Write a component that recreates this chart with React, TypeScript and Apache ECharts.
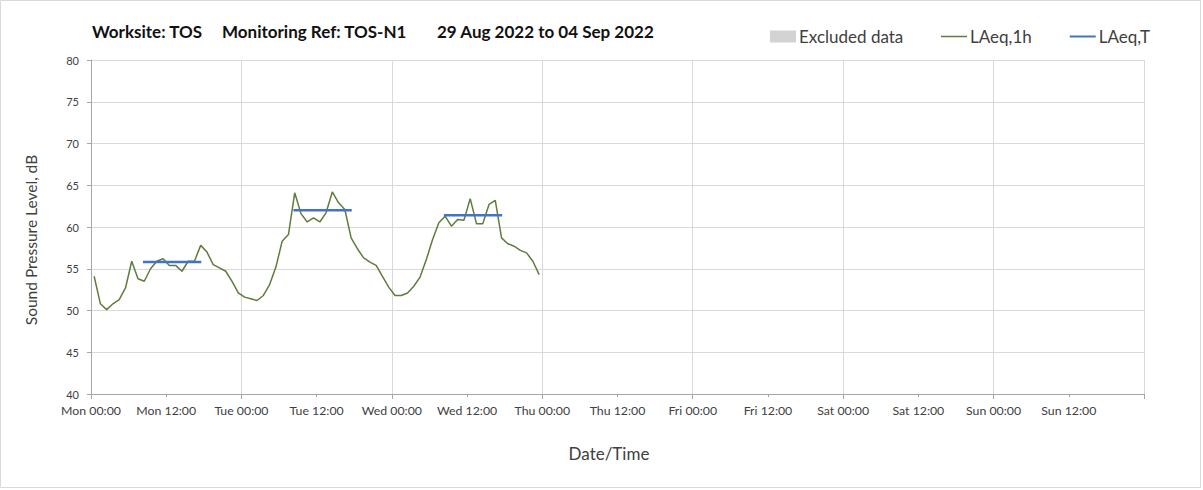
import React, { useEffect, useRef } from 'react';
import * as echarts from 'echarts';

const DAYS = ['Mon', 'Tue', 'Wed', 'Thu', 'Fri', 'Sat', 'Sun'];
const HALF_DAY_LABELS = ['00:00', '12:00'];

// Hourly LAeq,1h values (dB), Mon 00:00 to Wed 23:00
const laeq1hMon = [54.1, 50.8, 50.1, 50.8, 51.3, 52.7, 55.9, 53.8, 53.5, 55.0, 55.9, 56.2, 55.4, 55.4, 54.7, 55.9, 55.9, 57.8, 57.0, 55.5, 55.1, 54.7, 53.5, 52.1];
const laeq1hTue = [51.6, 51.4, 51.2, 51.8, 53.1, 55.2, 58.3, 59.1, 64.1, 61.6, 60.6, 61.1, 60.6, 61.7, 64.2, 62.9, 62.1, 58.7, 57.4, 56.3, 55.8, 55.4, 54.1, 52.8];
const laeq1hWed = [51.8, 51.8, 52.1, 52.9, 54.0, 56.1, 58.5, 60.5, 61.3, 60.1, 60.9, 60.8, 63.4, 60.4, 60.4, 62.7, 63.2, 58.7, 58.0, 57.7, 57.2, 56.9, 55.9, 54.3];

// LAeq,T daytime periods (hours from Mon 00:00)
const laeqTStart = [8.3, 32.3, 56.3];
const laeqTEnd = [17.6, 41.6, 65.6];
const laeqTValues = [55.8, 62.0, 61.4];

const TITLE_PARTS = ['Worksite: TOS', 'Monitoring Ref: TOS-N1', '29 Aug 2022 to 04 Sep 2022'];

const FONT = 'Lato, "Noto Sans", sans-serif';

export default function App() {
  const ref = useRef<HTMLDivElement>(null);
  useEffect(() => {
    if (!ref.current) return;
    const chart = echarts.init(ref.current, undefined, { renderer: 'svg' });
    const hourly = [...laeq1hMon, ...laeq1hTue, ...laeq1hWed];
    const lineData = hourly.map((v, i) => [i + 0.5, v]);
    const tSeries = laeqTValues.map((v, k) => ({
      name: 'LAeq,T',
      type: 'line',
      xAxisIndex: 0,
      symbol: 'none',
      lineStyle: { color: '#4472C4', width: 2.5 },
      itemStyle: { color: '#4472C4' },
      data: [[laeqTStart[k], v], [laeqTEnd[k], v]],
      z: 3,
    }));
    const fmt = (h: number) => {
      if (h >= 168) return '';
      return DAYS[Math.floor(h / 24)] + ' ' + HALF_DAY_LABELS[(h % 24) / 12];
    };
    const titleX = [92, 222, 437];
    chart.setOption({
      animation: false,
      backgroundColor: '#ffffff',
      textStyle: { fontFamily: FONT },
      grid: { left: 91, right: 59, top: 60, bottom: 96 },
      legend: {
        left: 770,
        top: 28,
        padding: 0,
        itemGap: 37,
        itemWidth: 26,
        itemHeight: 12,
        textStyle: { fontSize: 17, color: '#404040', fontFamily: FONT, padding: [0, 0, 0, -2] },
        data: [
          { name: 'Excluded data', icon: 'rect' },
          { name: 'LAeq,1h', itemStyle: { color: 'transparent', borderWidth: 0, opacity: 0 }, lineStyle: { width: 1.5 } },
          { name: 'LAeq,T', itemStyle: { color: 'transparent', borderWidth: 0, opacity: 0 }, lineStyle: { width: 2 } },
        ],
      },
      xAxis: [
        {
          type: 'value',
          min: 0,
          max: 168,
          interval: 12,
          axisLine: { show: true, lineStyle: { color: '#a6a6a6', width: 1 } },
          axisTick: { show: true, length: 3, lineStyle: { color: '#a6a6a6' } },
          axisLabel: { formatter: fmt, fontSize: 12.3, color: '#404040', margin: 10, showMaxLabel: false, fontFamily: FONT },
          splitLine: { show: false },
        },
        {
          type: 'value',
          min: 0,
          max: 168,
          interval: 24,
          position: 'bottom',
          axisLine: { show: false },
          axisTick: { show: true, length: 5, lineStyle: { color: '#a6a6a6' } },
          axisLabel: { show: false },
          splitLine: { show: true, lineStyle: { color: '#d9d9d9', width: 1 } },
        },
      ],
      yAxis: {
        type: 'value',
        min: 40,
        max: 80,
        interval: 5,
        axisLine: { show: true, lineStyle: { color: '#a6a6a6' } },
        axisTick: { show: true, length: 4, lineStyle: { color: '#a6a6a6' } },
        axisLabel: { fontSize: 11, color: '#404040', margin: 12, fontFamily: FONT },
        splitLine: { show: true, lineStyle: { color: '#d9d9d9', width: 1 } },
      },
      series: [
        {
          name: 'Excluded data',
          type: 'bar',
          xAxisIndex: 0,
          itemStyle: { color: '#d3d3d3' },
          data: [],
        },
        {
          name: 'LAeq,1h',
          type: 'line',
          xAxisIndex: 0,
          symbol: 'none',
          lineStyle: { color: '#5E7D3B', width: 1.5 },
          itemStyle: { color: '#5E7D3B' },
          data: lineData,
          z: 2,
        },
        ...tSeries,
      ],
      graphic: [
        {
          type: 'rect',
          shape: { x: 0.5, y: 0.5, width: 1200, height: 487 },
          style: { fill: 'none', stroke: '#d9d9d9', lineWidth: 1 },
          silent: true,
        },
        ...TITLE_PARTS.map((t, k) => ({
          type: 'text',
          x: titleX[k],
          y: 31,
          style: { text: t, font: 'bold 17px ' + FONT, fill: '#111111', textVerticalAlign: 'middle' },
        })),
        {
          type: 'text',
          x: 609,
          y: 453,
          style: { text: 'Date/Time', font: '17px ' + FONT, fill: '#404040', textAlign: 'center', textVerticalAlign: 'middle' },
        },
        {
          type: 'text',
          x: 31,
          y: 240,
          rotation: Math.PI / 2,
          style: { text: 'Sound Pressure Level, dB', font: '15.5px ' + FONT, fill: '#404040', textAlign: 'center', textVerticalAlign: 'middle' },
        },
      ],
    });
    return () => chart.dispose();
  }, []);
  return (
    <div
      ref={ref}
      style={{ position: 'absolute', left: 0, top: 0, width: 1203, height: 490, background: '#fff' }}
    />
  );
}
